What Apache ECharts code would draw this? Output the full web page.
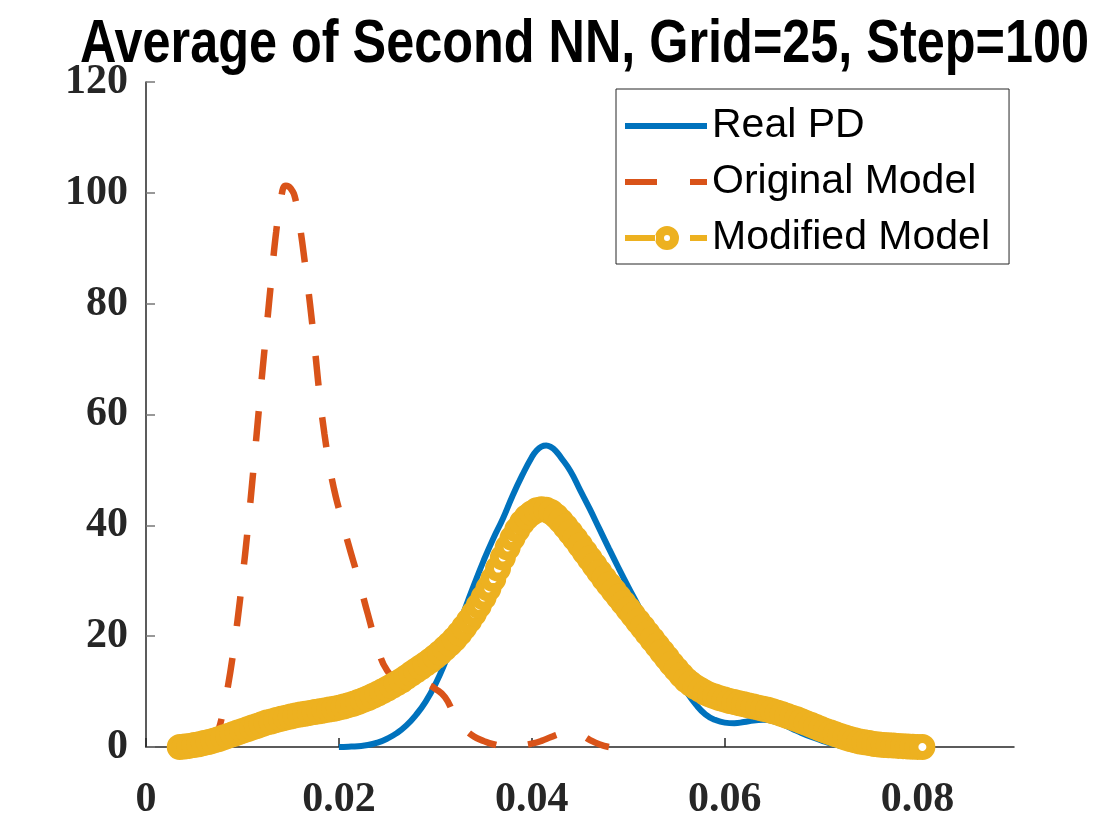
<!DOCTYPE html>
<html>
<head>
<meta charset="utf-8">
<title>Average of Second NN</title>
<script src="https://cdn.jsdelivr.net/npm/echarts@6.0.0/dist/echarts.min.js"></script>
<style>
  html, body { margin: 0; padding: 0; background: #fff; }
  #chart { width: 1120px; height: 840px; }
</style>
</head>
<body>
<div id="chart"></div>
<script>
const titleText = 'Average of Second NN, Grid=25, Step=100'
const seriesNames = ['Real PD', 'Original Model', 'Modified Model']
const xTicks = [0, 0.02, 0.04, 0.06, 0.08]

// [x, density]
const realPD = [
  [0.020, 0], [0.021, 0.05], [0.022, 0.15], [0.023, 0.35], [0.024, 0.8],
  [0.025, 1.5], [0.026, 2.5], [0.027, 3.9], [0.028, 5.8], [0.029, 8.2],
  [0.030, 11.3], [0.031, 15.2], [0.032, 19.8], [0.033, 24.6], [0.034, 29.2],
  [0.035, 33.6], [0.036, 37.6], [0.037, 41.2], [0.038, 45.3], [0.039, 49.0],
  [0.040, 52.3], [0.0405, 53.5], [0.041, 54.2], [0.0415, 54.4], [0.042, 54.1],
  [0.0425, 53.4], [0.043, 52.3], [0.044, 49.8],
  [0.045, 46.4], [0.046, 43.0], [0.047, 39.4], [0.048, 35.8], [0.049, 32.3],
  [0.050, 28.9], [0.051, 25.6], [0.052, 22.2], [0.053, 19.0], [0.054, 15.9],
  [0.055, 12.9], [0.056, 10.1], [0.057, 7.7], [0.058, 5.9], [0.059, 4.9],
  [0.060, 4.4], [0.061, 4.3], [0.062, 4.5], [0.063, 4.8], [0.064, 4.9],
  [0.065, 4.7], [0.066, 4.1], [0.067, 3.3], [0.068, 2.5], [0.069, 1.8],
  [0.070, 1.2], [0.071, 0.6], [0.072, 0.25], [0.073, 0.05], [0.074, 0]
]

const originalModel = [
  [0.0068, 0], [0.0075, 3], [0.0080, 6.5], [0.0085, 11], [0.0090, 16.5],
  [0.0095, 23], [0.0100, 30.5], [0.0105, 38.5], [0.0110, 47.5], [0.0115, 57],
  [0.0120, 66.5], [0.0125, 75.5], [0.0130, 84.5], [0.0135, 93], [0.0140, 99],
  [0.0145, 101.3], [0.0150, 100.8], [0.0155, 98.8], [0.0160, 93.5], [0.0165, 87],
  [0.0170, 80], [0.0175, 72], [0.0180, 63.5], [0.0185, 56.5], [0.0190, 51],
  [0.0195, 46.5], [0.0200, 43], [0.0210, 36.5], [0.0220, 30.5], [0.0230, 24],
  [0.0240, 18], [0.0250, 13.8], [0.0260, 12.6], [0.0270, 12.6], [0.0280, 12.3],
  [0.0290, 11.5], [0.0300, 10.5], [0.0310, 9.0], [0.0320, 5.8], [0.0330, 3.4],
  [0.0340, 1.9], [0.0350, 1.1], [0.0360, 0.5], [0.0370, 0.2], [0.0380, 0.15],
  [0.0390, 0.3], [0.0400, 0.6], [0.0410, 1.1], [0.0420, 1.8], [0.0430, 2.4],
  [0.0440, 2.7], [0.0450, 2.3], [0.0460, 1.3], [0.0470, 0.5], [0.0480, 0]
]

const modifiedModel = [
  [0.0035, 0.0], [0.0040, 0.1], [0.0045, 0.2], [0.0050, 0.35], [0.0055, 0.5],
  [0.0060, 0.7], [0.0065, 0.9], [0.0070, 1.15], [0.0075, 1.4], [0.0080, 1.7],
  [0.0085, 2.0], [0.0090, 2.3], [0.0095, 2.6], [0.0100, 2.9], [0.0105, 3.2],
  [0.0110, 3.5], [0.0115, 3.8], [0.0120, 4.1], [0.0125, 4.4], [0.0130, 4.6],
  [0.0135, 4.85], [0.0140, 5.1], [0.0145, 5.3], [0.0150, 5.5], [0.0155, 5.7],
  [0.0160, 5.85], [0.0165, 6.0], [0.0170, 6.15], [0.0175, 6.3], [0.0180, 6.45],
  [0.0185, 6.6], [0.0190, 6.75], [0.0195, 6.9], [0.0200, 7.1], [0.0205, 7.3],
  [0.0210, 7.55], [0.0215, 7.8], [0.0220, 8.1], [0.0225, 8.45], [0.0230, 8.8],
  [0.0235, 9.2], [0.0240, 9.6], [0.0245, 10.05], [0.0250, 10.5], [0.0255, 11.0],
  [0.0260, 11.5], [0.0265, 12.0], [0.0270, 12.6], [0.0275, 13.2], [0.0280, 13.8],
  [0.0285, 14.4], [0.0290, 15.0], [0.0295, 15.6], [0.0300, 16.3], [0.0305, 17.0],
  [0.0310, 17.8], [0.0315, 18.6], [0.0320, 19.5], [0.0325, 20.5], [0.0330, 21.6],
  [0.0335, 22.8], [0.0340, 24.1], [0.0345, 25.5], [0.0350, 27.0], [0.0355, 28.6],
  [0.0360, 30.3], [0.0365, 32.2], [0.0370, 34.2], [0.0375, 36.0], [0.0380, 37.7],
  [0.0385, 39.2], [0.0390, 40.5], [0.0395, 41.5], [0.0400, 42.2], [0.0405, 42.7],
  [0.0410, 42.9], [0.0415, 42.8], [0.0420, 42.4], [0.0425, 41.7], [0.0430, 40.8],
  [0.0435, 39.8], [0.0440, 38.7], [0.0445, 37.6], [0.0450, 36.4], [0.0455, 35.2],
  [0.0460, 34.0], [0.0465, 32.8], [0.0470, 31.6], [0.0475, 30.4], [0.0480, 29.3],
  [0.0485, 28.2], [0.0490, 27.1], [0.0495, 26.0], [0.0500, 24.9], [0.0505, 23.8],
  [0.0510, 22.7], [0.0515, 21.6], [0.0520, 20.5], [0.0525, 19.4], [0.0530, 18.3],
  [0.0535, 17.2], [0.0540, 16.1], [0.0545, 15.0], [0.0550, 14.0], [0.0555, 13.0],
  [0.0560, 12.1], [0.0565, 11.4], [0.0570, 10.8], [0.0575, 10.3], [0.0580, 9.8],
  [0.0585, 9.4], [0.0590, 9.1], [0.0595, 8.8], [0.0600, 8.55], [0.0605, 8.3],
  [0.0610, 8.1], [0.0615, 7.9], [0.0620, 7.7], [0.0625, 7.5], [0.0630, 7.3],
  [0.0635, 7.1], [0.0640, 6.9], [0.0645, 6.7], [0.0650, 6.45], [0.0655, 6.2],
  [0.0660, 5.9], [0.0665, 5.6], [0.0670, 5.3], [0.0675, 5.0], [0.0680, 4.65],
  [0.0685, 4.3], [0.0690, 3.95], [0.0695, 3.6], [0.0700, 3.25], [0.0705, 2.9],
  [0.0710, 2.6], [0.0715, 2.3], [0.0720, 2.0], [0.0725, 1.7], [0.0730, 1.45],
  [0.0735, 1.2], [0.0740, 1.0], [0.0745, 0.85], [0.0750, 0.7], [0.0755, 0.55],
  [0.0760, 0.45], [0.0765, 0.35], [0.0770, 0.3], [0.0775, 0.25], [0.0780, 0.2],
  [0.0785, 0.15], [0.0790, 0.1], [0.0795, 0.05], [0.0800, 0.02], [0.0805, 0.0]
]

const blue = '#0072BD'
const orange = '#D95319'
const yellow = '#EDB120'
const axisColor = '#262626'
const tickFont = { fontFamily: '"Liberation Serif", serif', fontWeight: 'bold', fontSize: 42, color: axisColor }

// legend icons in an 82x24 box (first two moves only fix the box)
const iconSolid = 'path://M0,0M82,24M0,9h82v6h-82z'
const iconDash = 'path://M0,0M82,24M0,9h32v6h-32zM65,9h17v6h-17z'
const iconDashRing = 'path://M0,0M82,24M0,9h31v6h-31zM65,9h17v6h-17z' +
  'M54,12A12,12,0,1,0,30,12A12,12,0,1,0,54,12z' +
  'M45,12A3,3,0,1,1,39,12A3,3,0,1,1,45,12z'

let oChart = echarts.init(document.getElementById('chart'))

let option = {
  animation: false,
  backgroundColor: '#fff',
  graphic: [{
    type: 'text',
    x: 80,
    y: 45,
    scaleX: 0.826,
    silent: true,
    style: {
      text: titleText,
      font: 'bold 61px "Liberation Sans", Arial, sans-serif',
      fill: '#000',
      align: 'left',
      verticalAlign: 'middle'
    }
  }],
  grid: { left: 146, right: 106, top: 82, bottom: 93 },
  legend: {
    data: [
      { name: seriesNames[0], icon: iconSolid, itemStyle: { color: blue, borderWidth: 0 } },
      { name: seriesNames[1], icon: iconDash, itemStyle: { color: orange, borderWidth: 0 } },
      { name: seriesNames[2], icon: iconDashRing, itemStyle: { color: yellow, borderWidth: 0 } }
    ],
    orient: 'vertical',
    left: 616,
    top: 89,
    padding: [14, 19, 3, 9],
    itemGap: 10,
    itemWidth: 82,
    itemHeight: 24,
    backgroundColor: '#fff',
    borderColor: axisColor,
    borderWidth: 1,
    borderRadius: 0,
    selectedMode: false,
    textStyle: { fontFamily: '"Liberation Sans", Arial, sans-serif', fontSize: 41, color: '#000', lineHeight: 46 }
  },
  xAxis: {
    type: 'value',
    min: 0,
    max: 0.09,
    interval: 0.02,
    splitLine: { show: false },
    axisLine: { lineStyle: { color: axisColor, width: 1.5 } },
    axisTick: { inside: true, length: 9, customValues: xTicks, lineStyle: { color: axisColor, width: 1.5 } },
    axisLabel: Object.assign({ margin: 32, customValues: xTicks }, tickFont)
  },
  yAxis: {
    type: 'value',
    min: 0,
    max: 120,
    interval: 20,
    splitLine: { show: false },
    axisLine: { show: true, lineStyle: { color: axisColor, width: 1.5 } },
    axisTick: { show: true, inside: true, length: 9, lineStyle: { color: '#777', width: 1.5 } },
    axisLabel: Object.assign({ margin: 18 }, tickFont)
  },
  series: [
    {
      name: seriesNames[0],
      type: 'line',
      data: realPD,
      smooth: true,
      showSymbol: false,
      symbol: 'none',
      clip: false,
      silent: true,
      color: blue,
      lineStyle: { color: blue, width: 6 }
    },
    {
      name: seriesNames[1],
      type: 'line',
      data: originalModel,
      smooth: true,
      showSymbol: false,
      symbol: 'none',
      clip: false,
      silent: true,
      color: orange,
      lineStyle: { color: orange, width: 6.5, type: [30, 32] }
    },
    {
      name: seriesNames[2],
      type: 'line',
      data: modifiedModel,
      smooth: true,
      symbol: 'circle',
      symbolSize: 17,
      showSymbol: true,
      clip: false,
      silent: true,
      color: yellow,
      lineStyle: { color: yellow, width: 6, type: [30, 32] },
      itemStyle: { color: '#fff', borderColor: yellow, borderWidth: 9 }
    }
  ]
}

oChart.setOption(option)
</script>
</body>
</html>
